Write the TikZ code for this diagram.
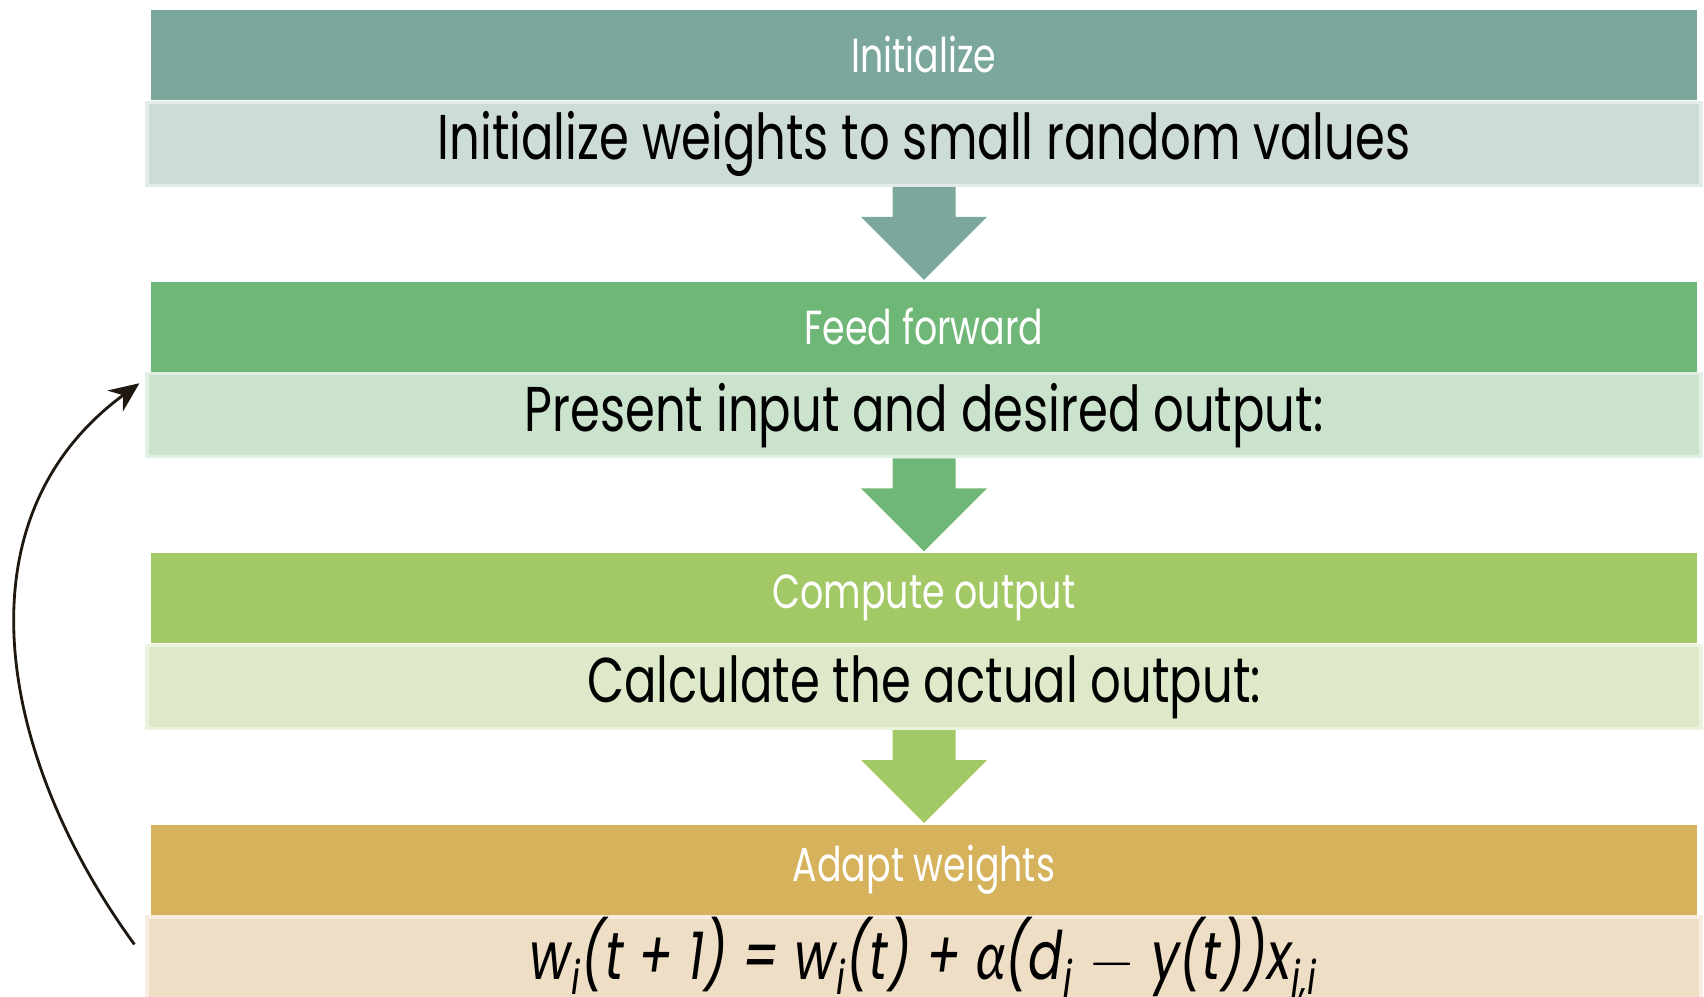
\documentclass[tikz,border=0pt]{standalone}
\usepackage{fontspec}
\setmainfont{Poppins}[FakeStretch=0.76]
\newfontfamily\greekfont{Lato}[FakeStretch=0.8]
\usetikzlibrary{positioning,arrows.meta}

\definecolor{tealhead}{HTML}{7BA79D}
\definecolor{tealbody}{HTML}{CDDCD9}
\definecolor{greenhead}{HTML}{6FB776}
\definecolor{greenbody}{HTML}{CBE3CD}
\definecolor{limehead}{HTML}{A3C866}
\definecolor{limebody}{HTML}{DEE9C9}
\definecolor{goldhead}{HTML}{D7B25C}
\definecolor{goldbody}{HTML}{EEDEC5}
\definecolor{loopline}{HTML}{1E1810}

\tikzset{
  head/.style={rectangle, fill=#1, minimum width=15.46cm, minimum height=0.9cm,
    inner sep=0pt, text=white, font=\fontsize{13.6}{16}\selectfont},
  body/.style={rectangle, fill=#1, draw=#1!55!white, line width=0.9pt,
    minimum width=15.54cm, minimum height=0.83cm, inner sep=0pt,
    font=\fontsize{18}{21}\selectfont},
}

\begin{document}
\begin{tikzpicture}
  \path[use as bounding box] (0,0) rectangle (17.04,-9.97);
  \clip (0,0) rectangle (17.04,-9.97);

  \node[head=tealhead] (h1) at (9.24,-0.55) {Initialize};
  \node[body=tealbody, below=0pt of h1] (c1) {Initialize weights to small random values};
  \node[head=greenhead, below=0.94cm of c1] (h2) {Feed forward};
  \node[body=greenbody, below=0pt of h2] (c2) {Present input and desired output:};
  \node[head=limehead, below=0.94cm of c2] (h3) {Compute output};
  \node[body=limebody, below=0pt of h3] (c3) {Calculate the actual output:};
  \node[head=goldhead, below=0.94cm of c3] (h4) {Adapt weights};
  \node[body=goldbody, below=0pt of h4, font=\fontsize{19}{22}\selectfont] (c4)
    {\itshape w\textsubscript{i}(t + 1) = w\textsubscript{i}(t) + {\greekfont α}(d\textsubscript{j} $-$ y(t))x\textsubscript{j,i}};

  % block arrows between the steps
  \foreach \a/\b/\col in {c1/h2/tealhead, c2/h3/greenhead, c3/h4/limehead}
    \fill[\col] (\a.south) ++(-0.315,0) -- ++(0,-0.3) -- ++(-0.315,0)
      -- ([yshift=0.01cm]\b.north) -- ++(0.63,0.63) -- ++(-0.315,0)
      -- ++(0,0.3) -- cycle;

  % loop back
  \draw[loopline, line width=0.8pt, -{Stealth[length=0.3cm, width=0.26cm]}]
    ([xshift=-0.11cm, yshift=-0.29cm]c4.north west)
    .. controls (0,-7.6) and (-0.47,-5.2) ..
    ([xshift=-0.06cm, yshift=-0.11cm]c2.north west);
\end{tikzpicture}
\end{document}
